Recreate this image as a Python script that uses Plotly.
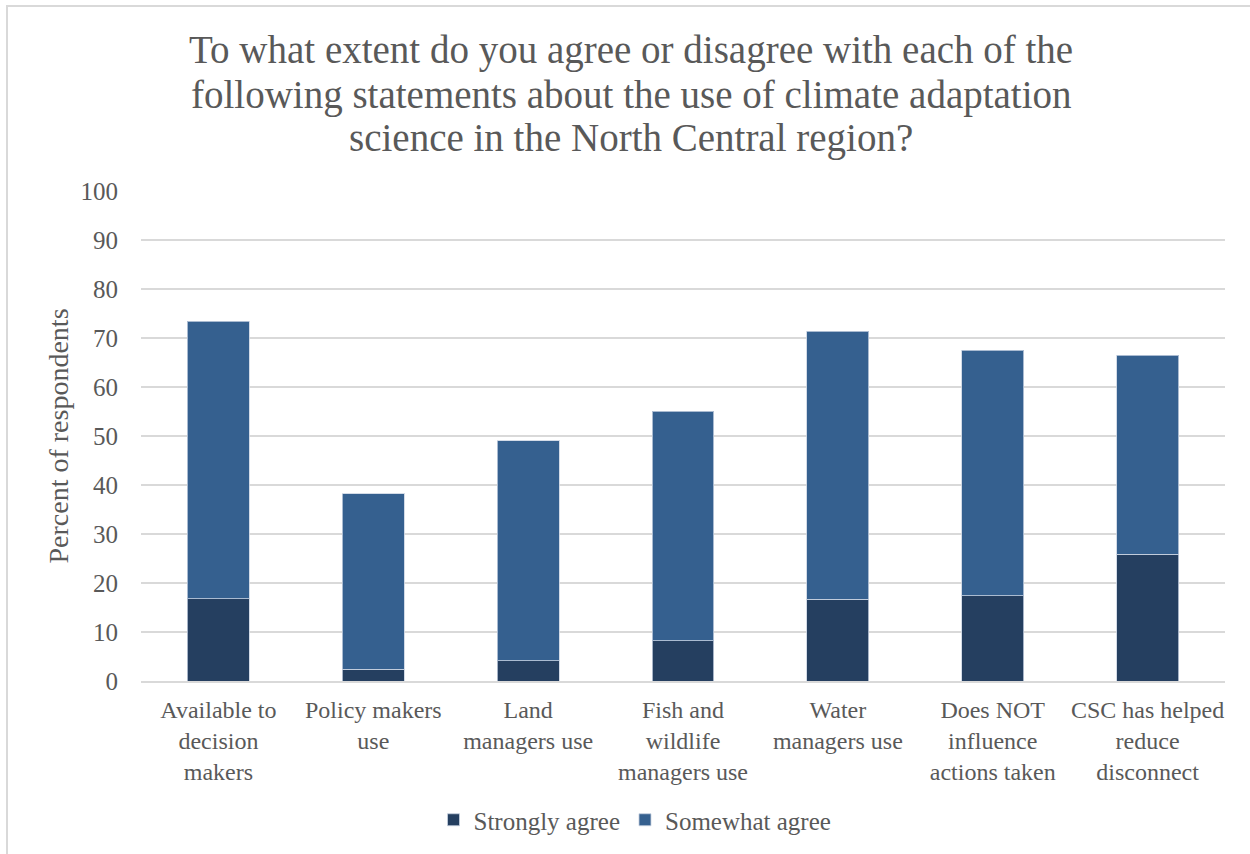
import plotly.graph_objects as go

categories = [
    "Available to<br>decision<br>makers",
    "Policy makers<br>use",
    "Land<br>managers use",
    "Fish and<br>wildlife<br>managers use",
    "Water<br>managers use",
    "Does NOT<br>influence<br>actions taken",
    "CSC has helped<br>reduce<br>disconnect",
]
strongly_agree = [16.8, 2.4, 4.1, 8.2, 16.7, 17.4, 25.9]
total_agree = [73.4, 38.2, 49.0, 55.1, 71.4, 67.5, 66.5]
somewhat_agree = [round(t - s, 1) for t, s in zip(total_agree, strongly_agree)]
title_lines = [
    "To what extent do you agree or disagree with each of the",
    "following statements about the use of climate adaptation",
    "science in the North Central region?",
]

FONT = "Liberation Serif"
TXT = "#595959"

fig = go.Figure()
fig.add_trace(go.Bar(
    name="Strongly agree", x=categories, y=strongly_agree,
    marker=dict(color="#253f60", line=dict(color="rgba(200,210,225,0.8)", width=1)),
))
fig.add_trace(go.Bar(
    name="Somewhat agree", x=categories, y=somewhat_agree,
    marker=dict(color="#35608f", line=dict(color="rgba(200,210,225,0.8)", width=1)),
))

fig.update_layout(
    barmode="stack",
    bargap=0.6,
    width=1250, height=854,
    margin=dict(l=141, r=25, t=191, b=173, autoexpand=False),
    paper_bgcolor="white", plot_bgcolor="white",
    font=dict(family=FONT, color=TXT, size=24),
    xaxis=dict(
        showgrid=False, showline=True, linecolor="#d9d9d9", linewidth=2,
        ticks="", tickfont=dict(size=24, color=TXT), ticklabelstandoff=6,
        automargin=False,
    ),
    yaxis=dict(
        range=[0, 100], dtick=10, showgrid=True, gridcolor="#d9d9d9", gridwidth=1.5,
        zeroline=False, showline=False, ticks="", ticklabelstandoff=22,
        tickfont=dict(size=25, color=TXT), automargin=False,
        title=dict(text="Percent of respondents", font=dict(size=28, color=TXT), standoff=3),
    ),
    legend=dict(
        orientation="h", x=0.508, xanchor="center", xref="container",
        y=(854 - 820) / 854, yanchor="middle", yref="container",
        font=dict(size=25, color=TXT), traceorder="normal",
    ),
)

for line, yc in zip(title_lines, [50, 95, 138]):
    fig.add_annotation(
        text=line, xref="paper", yref="paper",
        x=(631 - 141) / 1084, y=1 + (191 - yc) / 490,
        xanchor="center", yanchor="middle", showarrow=False,
        font=dict(family=FONT, size=39, color=TXT),
    )

fig.add_shape(type="rect", xref="x domain", yref="y domain",
              x0=(7 - 141) / 1084, x1=1.2, y0=-3, y1=1 + (191 - 6) / 490,
              line=dict(color="#d9d9d9", width=2), layer="below")
fig.write_html("out.html")
